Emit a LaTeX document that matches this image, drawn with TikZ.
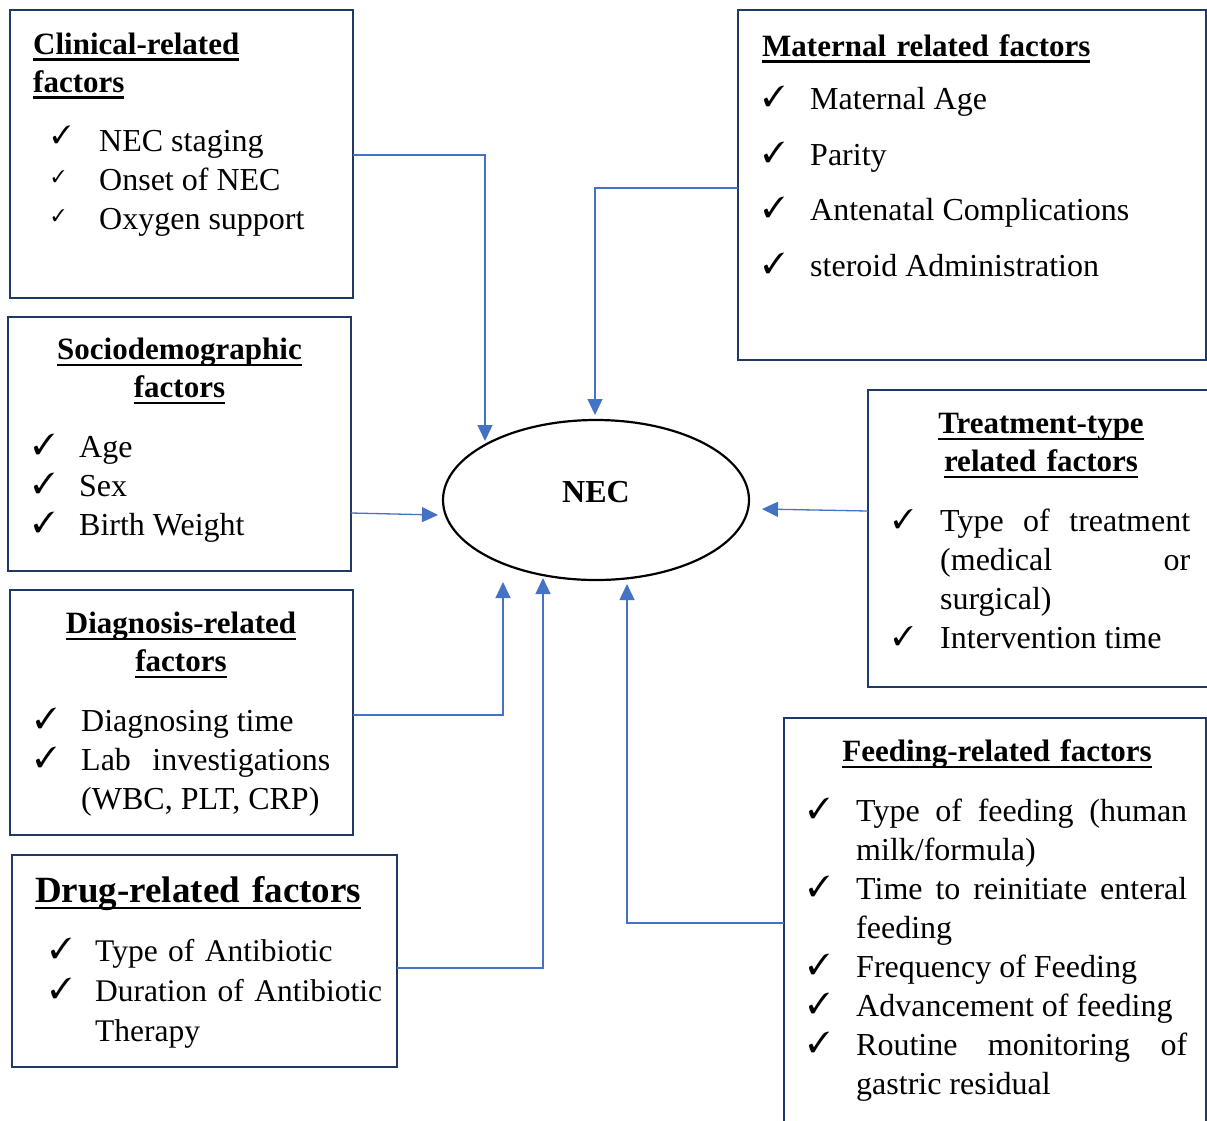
\documentclass[tikz,border=0pt]{standalone}
\usepackage{fontspec}
\setmainfont{Liberation Serif}
\usepackage{pifont}
\usetikzlibrary{shapes.geometric,arrows.meta}
\definecolor{navy}{HTML}{1F3864}
\definecolor{conblue}{HTML}{4472C4}
\newlength\hdw
\newcommand\hd[1]{\settowidth\hdw{#1}\makebox[0pt][l]{\rule[-6.5pt]{\hdw}{2.5pt}}#1}
\newlength\ckind
\newlength\ckrise
\newcommand\itm[2][29]{\hangindent=\ckind\hangafter=1\noindent\makebox[\ckind][l]{\raisebox{\ckrise}{\fontsize{#1}{#1}\selectfont\ding{51}}}#2\par}
\tolerance=10000
\hbadness=10000
\hyphenpenalty=10000
\tikzset{
  box/.style={draw=navy, line width=2.5pt, inner sep=0pt, outer sep=0pt, anchor=north west},
  conn/.style={draw=conblue, line width=1.3pt, -{Triangle[length=16pt,width=15pt]}},
  head/.style={inner sep=0pt, font=\fontsize{31}{38}\selectfont\bfseries},
  lst/.style={anchor=base west, inner sep=0pt, align=justify, font=\fontsize{32}{39}\selectfont}
}
\begin{document}
\begin{tikzpicture}[x=1pt,y=-1pt]
\useasboundingbox (0,0) rectangle (1207,1120);
% boxes
\node[box, minimum width=343pt, minimum height=288pt] (clin) at (10,10) {};
\node[box, minimum width=468pt, minimum height=350pt] (mat) at (738,10) {};
\node[box, minimum width=343pt, minimum height=254pt] (soc) at (8,317) {};
\node[box, minimum width=346pt, minimum height=297pt] (trt) at (868,390) {};
\node[box, minimum width=343pt, minimum height=245pt] (diag) at (10,590) {};
\node[box, minimum width=385pt, minimum height=212pt] (drug) at (12,855) {};
\node[box, minimum width=422pt, minimum height=420pt] (feed) at (784,718) {};
% NEC
\node[draw, ellipse, line width=2.2pt, minimum width=306pt, minimum height=160pt, inner sep=0pt] (nec) at (596,500) {};
\node[inner sep=0pt, font=\fontsize{32}{38}\selectfont\bfseries] (necT) at (596,492) {NEC};
% headings
\node[head, anchor=base west, text width=310pt, align=left] (clinH) at (33,54) {\hd{Clinical-related}\\\hd{factors}};
\node[head, anchor=base west, text width=430pt, align=left] (matH) at (762,56) {\hd{Maternal related factors}};
\node[head, anchor=base, text width=330pt, align=center] (socH) at (179.5,359.5) {\hd{Sociodemographic}\\\hd{factors}};
\node[head, anchor=base, text width=330pt, align=center] (trtH) at (1041,433.5) {\hd{Treatment-type}\\\hd{related factors}};
\node[head, anchor=base, text width=330pt, align=center] (diagH) at (181,633.5) {\hd{Diagnosis-related}\\\hd{factors}};
\node[head, anchor=base west, text width=380pt, align=left, font=\fontsize{37}{44}\selectfont\bfseries] (drugH) at (35,902.5) {\hd{Drug-related factors}};
\node[head, anchor=base, text width=400pt, align=center] (feedH) at (997,761.5) {\hd{Feeding-related factors}};
% lists
\node[lst, text width=300pt] (clinL) at (52,151) {\setlength\ckind{47pt}\setlength\ckrise{8pt}%
\itm[25]{NEC staging}\itm[17]{Onset of NEC}\itm[17]{Oxygen support}};
\node[lst, text width=430pt, font=\fontsize{32}{55.5}\selectfont] (matL) at (763,109.5) {\setlength\ckind{47pt}\setlength\ckrise{3pt}%
\itm{Maternal Age}\itm{Parity}\itm{Antenatal Complications}\itm{steroid Administration}};
\node[lst, text width=310pt] (socL) at (33,457.5) {\setlength\ckind{46pt}\setlength\ckrise{3pt}%
\itm{Age}\itm{Sex}\itm{Birth Weight}};
\node[lst, text width=297pt] (trtL) at (893,531.5) {\setlength\ckind{47pt}\setlength\ckrise{3pt}%
\itm[27]{Type of treatment\linebreak (medical or\linebreak surgical)}\itm[27]{Intervention time}};
\node[lst, text width=295pt] (diagL) at (35,731.5) {\setlength\ckind{46pt}\setlength\ckrise{3pt}%
\itm{Diagnosing time}\itm{Lab investigations\linebreak (WBC, PLT, CRP)}};
\node[lst, text width=360pt, align=left, font=\fontsize{31.5}{40}\selectfont] (drugL) at (50,961.5) {\setlength\ckind{45pt}\setlength\ckrise{3pt}%
\itm{Type of Antibiotic}\itm{Duration of Antibiotic\newline Therapy}};
\node[lst, text width=379pt] (feedL) at (808,821.5) {\setlength\ckind{48pt}\setlength\ckrise{3pt}%
\itm{Type of feeding (human\linebreak milk/formula)}\itm{Time to reinitiate enteral\linebreak feeding}\itm{Frequency of Feeding}\itm{Advancement of feeding}\itm{Routine monitoring of\linebreak gastric residual}};
% arrow tips
\coordinate (tC) at (485,441);
\coordinate (tM) at (595,415);
\coordinate (tS) at (438,515);
\coordinate (tT) at (762,509);
\coordinate (tD) at (503,582);
\coordinate (tDr) at (543,578);
\coordinate (tF) at (627,584);
% connectors
\draw[conn] ([yshift=-145pt]clin.north east) -| (tC);
\draw[conn] ([yshift=-178pt]mat.north west) -| (tM);
\draw[conn] ([yshift=-196pt]soc.north east) -- (tS);
\draw[conn] ([yshift=-121pt]trt.north west) -- (tT);
\draw[conn] ([yshift=-125pt]diag.north east) -| (tD);
\draw[conn] ([yshift=-113pt]drug.north east) -| (tDr);
\draw[conn] ([yshift=-205pt]feed.north west) -| (tF);
\end{tikzpicture}
\end{document}
